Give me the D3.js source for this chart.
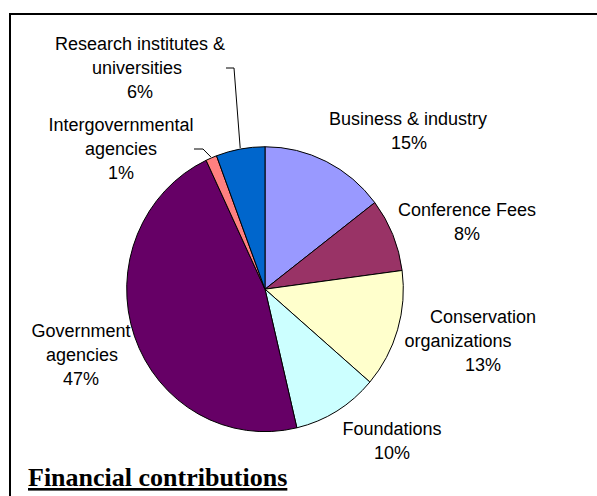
<!DOCTYPE html>
<html>
<head>
<meta charset="utf-8">
<script src="https://cdn.jsdelivr.net/npm/d3@7"></script>
<style>
  html, body { margin: 0; padding: 0; background: #fff; }
  svg { display: block; }
</style>
</head>
<body>
<svg id="chart" width="597" height="496"></svg>
<script>
// ---- data ----
const categories = [
  "Business & industry",
  "Conference Fees",
  "Conservation organizations",
  "Foundations",
  "Government agencies",
  "Intergovernmental agencies",
  "Research institutes & universities"
];
const values = [14.6, 8.3, 13.4, 10.0, 46.7, 1.3, 5.7];
const colors = ["#9999FF", "#993366", "#FFFFCC", "#CCFFFF", "#660066", "#FF8080", "#0066CC"];
const labelLines = [
  ["Business & industry"],
  ["Conference Fees"],
  ["Conservation", "organizations"],
  ["Foundations"],
  ["Government", "agencies"],
  ["Intergovernmental", "agencies"],
  ["Research institutes &", "universities"]
];
const title = "Financial contributions";

// ---- layout ----
const svg = d3.select("#chart");
const cx = 265, cy = 289.2, r = 138.3, yStretch = 1.03;
const lineH = 24;
// per-label line centres (x per line, y of first line)
const labelPos = [
  { xs: [408, 409], y: 119 },
  { xs: [467, 467], y: 210 },
  { xs: [483, 458, 483], y: 317 },
  { xs: [392, 392], y: 429 },
  { xs: [81, 82, 81], y: 331 },
  { xs: [121, 121, 121], y: 125 },
  { xs: [140, 137, 140], y: 44 }
];

// frame
svg.append("path")
  .attr("d", "M10,496 V14 H597")
  .attr("fill", "none").attr("stroke", "#000").attr("stroke-width", 2);

const total = d3.sum(values);
const pct = d3.format(".0%");
const pie = d3.pie().sort(null).value(d => d)(values);
const arc = d3.arc().innerRadius(0).outerRadius(r);

const g = svg.append("g").attr("transform", `translate(${cx},${cy}) scale(1,${yStretch})`);
g.selectAll("path").data(pie).enter().append("path")
  .attr("d", arc)
  .attr("fill", (d, i) => colors[i])
  .attr("stroke", "#000")
  .attr("stroke-width", 1)
  .attr("vector-effect", "non-scaling-stroke")
  .attr("stroke-linejoin", "round");

// labels
const font = "'Liberation Sans', Arial, sans-serif";
pie.forEach((d, i) => {
  const lines = labelLines[i].concat([pct(values[i] / total)]);
  const t = svg.append("text")
    .attr("font-family", font).attr("font-size", 18).attr("fill", "#000")
    .attr("text-anchor", "middle");
  lines.forEach((ln, k) => {
    t.append("tspan")
      .attr("x", labelPos[i].xs[k])
      .attr("y", labelPos[i].y + k * lineH)
      .attr("dy", "0.35em")
      .text(ln);
  });
});

// leader lines (to slice edge midpoints)
function edgePoint(d, extra) {
  const a = (d.startAngle + d.endAngle) / 2;
  return [cx + (r + extra) * Math.sin(a), cy - (r + extra) * Math.cos(a) * yStretch];
}
const research = pie[6], inter = pie[5];
const pR = edgePoint(research, 1);
svg.append("path")
  .attr("d", `M226,68 H234 L${pR[0]},${pR[1]}`)
  .attr("fill", "none").attr("stroke", "#000").attr("stroke-width", 1);
const pI = edgePoint(inter, 1);
svg.append("path")
  .attr("d", `M194,149 H203 L${pI[0]},${pI[1]}`)
  .attr("fill", "none").attr("stroke", "#000").attr("stroke-width", 1);

// title
svg.append("text")
  .attr("x", 28).attr("y", 486)
  .attr("font-family", "'Liberation Serif', 'Times New Roman', serif")
  .attr("font-size", 26).attr("font-weight", "bold")
  .attr("text-decoration", "underline")
  .text(title);
</script>
</body>
</html>
